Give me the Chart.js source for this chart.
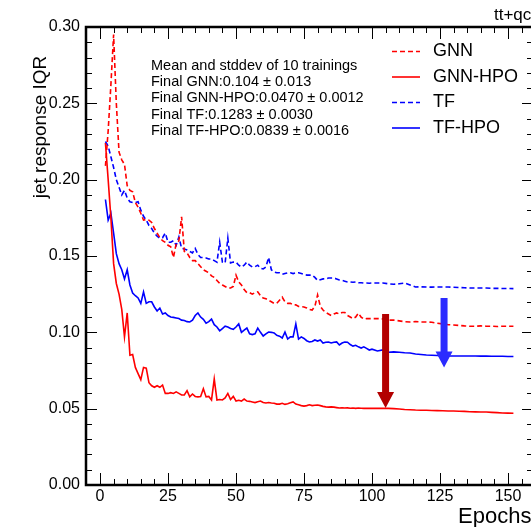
<!DOCTYPE html>
<html><head><meta charset="utf-8">
<script src="https://cdn.jsdelivr.net/npm/chart.js@4/dist/chart.umd.min.js"></script>
<style>
html,body{margin:0;padding:0;background:#fff;overflow:hidden;width:531px;height:527px}
#wrap{position:absolute;left:0;top:0;width:545px;height:527px}
</style>
</head><body><div id="wrap"><canvas id="c" width="545" height="527"></canvas></div>
<script>
const epochs = [2,3,4,5,6,7,8,9,10,11,12,13,14,15,16,17,18,19,20,21,22,23,24,25,26,27,28,29,30,31,32,33,34,35,36,37,38,39,40,41,42,43,44,45,46,47,48,49,50,51,52,53,54,55,56,57,58,59,60,61,62,63,64,65,66,67,68,69,70,71,72,73,74,75,76,77,78,79,80,81,82,83,84,85,86,87,88,89,90,91,92,93,94,95,96,97,98,99,100,102,104,106,108,110,112,114,116,118,120,122,124,126,128,130,132,134,136,138,140,142,144,146,148,150,152];

const gnn = [0.209,0.232,0.262,0.295,0.250,0.218,0.213,0.210,0.196,
0.193,0.192,0.185,0.182,0.178,0.1735,0.174,0.1735,0.172,0.168,
0.165,0.162,0.160,0.159,0.157,0.156,0.149,0.158,0.160,0.1757,
0.153,0.152,0.149,0.147,0.147,0.145,0.143,0.141,0.140,0.139,
0.137,0.136,0.134,0.132,0.131,0.130,0.129,0.129,0.130,0.1375,
0.133,0.131,0.128,0.126,0.126,0.125,0.126,0.1265,0.124,0.1225,
0.122,0.121,0.120,0.119,0.119,0.121,0.123,0.120,0.119,0.119,
0.118,0.118,0.117,0.1168,0.1166,0.116,0.115,0.1146,0.117,0.1245,
0.117,0.1146,0.113,0.112,0.111,0.112,0.1127,0.112,0.113,0.113,
0.111,0.110,0.109,0.110,0.1125,0.110,0.1087,0.109,0.109,0.109,
0.109,0.1088,0.108,0.108,0.1075,0.107,0.1068,0.107,0.1068,0.1068,0.1066,0.106,0.1055,0.105,0.1048,0.1045,0.1042,0.104,0.104,0.1042,0.104,0.104,0.1038,0.104,0.104,0.104];

const gnnHpo = [0.224,0.200,0.175,0.145,0.132,0.125,0.115,0.097,0.1127,
0.085,0.0855,0.077,0.073,0.069,0.077,0.0765,0.067,0.065,0.064,
0.065,0.064,0.0655,0.060,0.060,0.0605,0.060,0.061,0.060,0.059,
0.059,0.0618,0.0577,0.0596,0.058,0.0577,0.058,0.063,0.0577,0.058,
0.0557,0.0694,0.0557,0.056,0.0557,0.057,0.060,0.056,0.058,0.055,
0.0555,0.055,0.0563,0.055,0.0548,0.0544,0.054,0.0545,0.055,0.054,
0.0537,0.054,0.0537,0.0535,0.053,0.053,0.0535,0.0528,0.0532,0.0538,
0.0544,0.053,0.0525,0.052,0.0517,0.052,0.0525,0.052,0.0522,0.0524,
0.052,0.0515,0.0512,0.051,0.0512,0.051,0.0507,0.0504,0.0506,0.0504,
0.0505,0.0503,0.0504,0.0502,0.0504,0.0503,0.0502,0.0503,0.0502,0.0502,
0.0502,0.0503,0.0502,0.050,0.0498,0.0495,0.0493,0.0491,0.049,0.049,0.0488,0.0487,0.0486,0.0485,0.0485,0.0483,0.0482,0.048,0.0479,0.0478,0.0478,0.0476,0.0474,0.0472,0.0471,0.047];

const tf = [0.225,0.222,0.215,0.208,0.200,0.195,0.190,0.193,0.188,
0.1855,0.185,0.185,0.1855,0.180,0.176,0.1735,0.170,0.168,0.165,
0.163,0.1617,0.162,0.165,0.159,0.159,0.160,0.157,0.1625,0.155,
0.1546,0.154,0.153,0.152,0.155,0.151,0.149,0.149,0.1487,0.148,
0.148,0.147,0.146,0.159,0.146,0.1454,0.1617,0.1454,0.146,0.146,
0.144,0.1428,0.144,0.146,0.144,0.1428,0.143,0.144,0.142,0.1415,
0.1428,0.149,0.141,0.1395,0.139,0.139,0.138,0.1385,0.139,0.139,
0.1385,0.139,0.139,0.1385,0.138,0.1375,0.1375,0.1375,0.136,0.134,
0.1345,0.135,0.135,0.1356,0.1356,0.1356,0.135,0.1343,0.134,0.1335,
0.133,0.133,0.1328,0.133,0.1325,0.1325,0.1323,0.1323,0.1322,0.1323,
0.1323,0.1323,0.1318,0.1315,0.1318,0.1323,0.131,0.1297,0.1298,0.1297,0.1296,0.1297,0.1297,0.1297,0.1295,0.1293,0.1292,0.129,0.129,0.129,0.129,0.1288,0.1288,0.1287,0.1287,0.1286];

const tfHpo = [0.187,0.1735,0.178,0.165,0.1515,0.145,0.141,0.135,0.141,
0.131,0.1258,0.124,0.1225,0.119,0.1265,0.119,0.120,0.120,0.1166,
0.114,0.1159,0.112,0.1127,0.111,0.110,0.1098,0.1094,0.109,0.108,
0.1078,0.107,0.1068,0.108,0.111,0.1127,0.110,0.1085,0.106,0.107,
0.1087,0.105,0.1035,0.101,0.1025,0.104,0.1035,0.1025,0.102,0.1035,
0.1055,0.100,0.1015,0.1028,0.099,0.0985,0.099,0.1028,0.100,0.0976,
0.099,0.1002,0.100,0.0996,0.098,0.0975,0.0963,0.1002,0.0956,0.097,
0.097,0.1055,0.0956,0.097,0.096,0.0945,0.0937,0.094,0.095,0.0943,
0.095,0.093,0.0935,0.0937,0.093,0.0935,0.0937,0.0917,0.093,0.0937,
0.0935,0.092,0.091,0.0915,0.0905,0.0897,0.0905,0.0895,0.0884,0.089,
0.0878,0.0885,0.087,0.0872,0.087,0.0866,0.0865,0.0858,0.0855,0.0852,0.085,0.0848,0.0846,0.0845,0.0845,0.0845,0.0845,0.0845,0.0845,0.0844,0.0844,0.0843,0.0843,0.0843,0.0842,0.0842];

const seriesLabels = ['GNN','GNN-HPO','TF','TF-HPO'];
const xTicks = [0,25,50,75,100,125,150];
const yTicks = [0.00,0.05,0.10,0.15,0.20,0.25,0.30];
const statsLines = ['Mean and stddev of 10 trainings',
  'Final GNN:0.104 \u00b1 0.013',
  'Final GNN-HPO:0.0470 \u00b1 0.0012',
  'Final TF:0.1283 \u00b1 0.0030',
  'Final TF-HPO:0.0839 \u00b1 0.0016'];
const cornerLabel = 'tt+qcd';
const xTitle = 'Epochs';
const yTitle = 'jet response IQR';
// arrows: epoch position, start value, end value
const arrowX = [105, 126.5];
const arrowFrom = [0.112, 0.1225];
const arrowTo = [0.0504, 0.077];
const arrowColors = ['#b30000', '#2b2bff'];

const FONT = '"Liberation Sans", Arial, Helvetica, sans-serif';
Chart.defaults.font.family = FONT;
Chart.defaults.color = '#000';

function pts(vals){ return epochs.map((e,i)=>({x:e, y:vals[i]})); }

const decor = {
  id:'decor',
  afterDatasetsDraw(chart){
    const {ctx, chartArea:a, scales:{x,y}} = chart;
    ctx.save();
    // arrows
    for (let i=0;i<arrowX.length;i++){
      const px = x.getPixelForValue(arrowX[i]);
      const y1 = y.getPixelForValue(arrowFrom[i]);
      const y2 = y.getPixelForValue(arrowTo[i]);
      const sw=7, hw=17, hl=16;
      ctx.fillStyle = arrowColors[i];
      ctx.beginPath();
      ctx.moveTo(px-sw/2,y1); ctx.lineTo(px+sw/2,y1);
      ctx.lineTo(px+sw/2,y2-hl); ctx.lineTo(px+hw/2,y2-hl);
      ctx.lineTo(px,y2); ctx.lineTo(px-hw/2,y2-hl);
      ctx.lineTo(px-sw/2,y2-hl); ctx.closePath(); ctx.fill();
    }
    // ticks (inward, ROOT style)
    ctx.strokeStyle='#000'; ctx.lineWidth=1;
    ctx.beginPath();
    for (let v=-5; v<=x.max; v+=5){
      const px = Math.round(x.getPixelForValue(v))+0.5;
      const L = xTicks.includes(v) ? 12 : 6;
      ctx.moveTo(px,a.bottom); ctx.lineTo(px,a.bottom-L);
      ctx.moveTo(px,a.top); ctx.lineTo(px,a.top+L);
    }
    for (let i=0;i<=30;i++){
      const py = Math.round(y.getPixelForValue(i/100))+0.5;
      const L = (i%5===0) ? 11 : 6;
      ctx.moveTo(a.left,py); ctx.lineTo(a.left+L,py);
      ctx.moveTo(a.right,py); ctx.lineTo(a.right-L,py);
    }
    ctx.stroke();
    // frame
    ctx.lineWidth=2.5;
    ctx.strokeRect(a.left,a.top,a.right-a.left,a.bottom-a.top);
    // legend
    const ds = chart.data.datasets;
    ctx.font = '18px '+FONT; ctx.textBaseline='middle'; ctx.textAlign='left';
    for (let i=0;i<ds.length;i++){
      const ly = 51.5 + i*25.5;
      ctx.strokeStyle = ds[i].borderColor; ctx.lineWidth = 1.6;
      ctx.setLineDash(ds[i].borderDash || []);
      ctx.beginPath(); ctx.moveTo(392,ly); ctx.lineTo(420,ly); ctx.stroke();
      ctx.setLineDash([]);
      ctx.fillStyle='#000'; ctx.fillText(ds[i].label, 433, ly);
    }
    // stats text
    ctx.font = '14.5px '+FONT;
    statsLines.forEach((t,i)=>ctx.fillText(t, 151, 66 + i*16.2));
    // corner label
    ctx.font = '17px '+FONT; ctx.textBaseline='alphabetic';
    ctx.fillText(cornerLabel, 494, 20);
    // axis titles
    ctx.font = '22px '+FONT;
    ctx.fillText(xTitle, 458, 523);
    ctx.save();
    ctx.translate(46, 127); ctx.rotate(-Math.PI/2);
    ctx.font = '19px '+FONT; ctx.textAlign='center'; ctx.textBaseline='alphabetic';
    ctx.fillText(yTitle, 0, 0);
    ctx.restore();
    ctx.restore();
  }
};

new Chart(document.getElementById('c'), {
  type:'line',
  data:{ datasets:[
    {label:seriesLabels[0], data:pts(gnn), borderColor:'#ff0000', borderDash:[5,3], borderWidth:1.6},
    {label:seriesLabels[1], data:pts(gnnHpo), borderColor:'#ff0000', borderWidth:1.6},
    {label:seriesLabels[2], data:pts(tf), borderColor:'#0000ff', borderDash:[5,3], borderWidth:1.6},
    {label:seriesLabels[3], data:pts(tfHpo), borderColor:'#0000ff', borderWidth:1.6}
  ]},
  options:{
    responsive:false, animation:false,
    layout:{padding:{top:27,right:12,left:0,bottom:0}},
    elements:{point:{radius:0}, line:{tension:0, fill:false}},
    plugins:{legend:{display:false}, tooltip:{enabled:false}},
    scales:{
      x:{type:'linear', min:-5.15, max:159.2,
        grid:{display:false, drawTicks:false}, border:{display:false},
        ticks:{font:{size:16}, color:'#000', padding:2, maxRotation:0},
        afterBuildTicks:(s)=>{ s.ticks = xTicks.map(v=>({value:v})); },
        afterFit:(s)=>{ s.height = 42; }},
      y:{type:'linear', min:0, max:0.30,
        grid:{display:false, drawTicks:false}, border:{display:false},
        ticks:{font:{size:16}, color:'#000', padding:6, callback:(v)=>Number(v).toFixed(2)},
        afterBuildTicks:(s)=>{ s.ticks = yTicks.map(v=>({value:v})); },
        afterFit:(s)=>{ s.width = 86; }}
    }
  },
  plugins:[decor]
});
</script>
</body></html>
